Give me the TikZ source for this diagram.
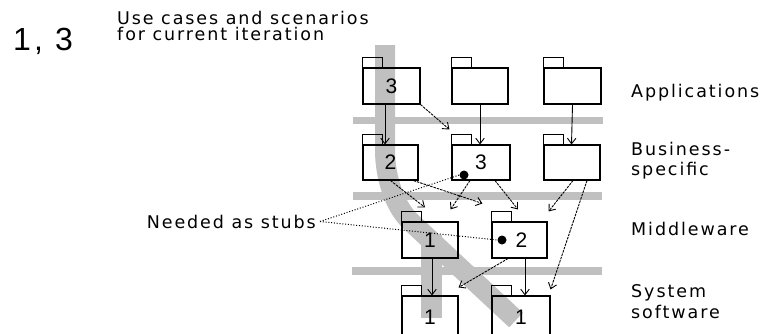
\documentclass[tikz,border=0pt]{standalone}
\usepackage{fontspec}
\setmainfont{Liberation Sans}
\newfontfamily\lblfont[LetterSpace=11]{DejaVu Sans}
\newfontfamily\bigfont[LetterSpace=10]{Liberation Sans}
\usetikzlibrary{arrows.meta}
\definecolor{bandgray}{RGB}{192,192,192}
\begin{document}
\begin{tikzpicture}[x=1pt,y=-1pt,
  lbl/.style={anchor=base west, inner sep=0pt, align=left},
  lblf/.style={font=\lblfont\fontsize{17.5}{#1}\selectfont},
  fold/.style={draw, line width=1.1pt, inner sep=0pt, font=\fontsize{21}{21}\selectfont},
  tabbox/.style={draw, line width=1.1pt},
  dep/.style={-{Straight Barb[length=5.5pt,width=8.5pt]}, line width=0.9pt},
  depd/.style={dep, dash pattern=on 2.5pt off 1pt},
  stub/.style={line width=1pt, dash pattern=on 1pt off 1.8pt},
  mark dot/.style={circle, fill=black, inner sep=0pt, minimum size=9pt}
]
\clip (0,0) rectangle (760,333);
\fill[white] (0,0) rectangle (760,333);
% gray bands
\fill[bandgray] (353,117) rectangle (603,124);
\fill[bandgray] (353,192) rectangle (602,200);
\fill[bandgray] (352,267) rectangle (602,275);
\draw[bandgray, line width=20pt] (385,45) -- (385,150) .. controls (385,180) and (396,208) .. (411,222) -- (516,320);
\draw[bandgray, line width=21pt] (431,235) -- (431,318);
% folders
\node[fold, minimum width=57pt, minimum height=36pt] (f11) at (391.5,86) {3};
\node[fold, minimum width=56pt, minimum height=36pt] (f12) at (480,86) {};
\node[fold, minimum width=57pt, minimum height=36pt] (f13) at (572.5,86) {};
\node[fold, minimum width=55pt, minimum height=35pt] (f21) at (390.5,162.5) {2};
\node[fold, minimum width=58pt, minimum height=35pt] (f22) at (481,162.5) {3};
\node[fold, minimum width=56pt, minimum height=35pt] (f23) at (572,162.5) {};
\node[fold, minimum width=56pt, minimum height=36pt] (f31) at (430,240) {1};
\node[fold, minimum width=55pt, minimum height=36pt] (f32) at (519.5,240) {\hspace*{4pt}2};
\node[fold, minimum width=56pt, minimum height=42pt] (f41) at (430,317) {1};
\node[fold, minimum width=58pt, minimum height=42pt] (f42) at (521,317) {1};
\foreach \f in {f11,f12,f13,f21,f22,f23,f31,f32,f41,f42}
  \draw[tabbox] (\f.north west) rectangle ([xshift=20pt,yshift=10pt]\f.north west);
% stub marks
\node[mark dot] (b22) at (464,175) {};
\node[mark dot] (d32) at (502,240) {};
% dependencies
\draw[dep] ([xshift=-6.5pt]f11.south) -- ([xshift=-5.5pt]f21.north);
\draw[depd] (f11.south east) -- ([xshift=-2pt,yshift=15pt]f22.north west);
\draw[dep] (f12.south) -- ([xshift=-1pt]f22.north);
\draw[dep] (f13.south) -- ([xshift=-0.5pt]f23.north);
\draw[depd] (f21.south) -- ([xshift=-5pt,yshift=14pt]f31.north);
\draw[depd] ([xshift=-5pt]f21.south east) -- ([xshift=-9pt,yshift=18pt]f32.north west);
\draw[depd] ([xshift=-11pt]f22.south) -- ([xshift=-8pt,yshift=12pt]f31.north east);
\draw[depd] ([xshift=14pt]f22.south) -- ([xshift=-1.5pt,yshift=12pt]f32.north);
\draw[depd] ([xshift=1pt]f23.south) -- ([xshift=1pt,yshift=10pt]f32.north east);
\draw[depd] ([xshift=15pt]f23.south) -- ([yshift=6pt]f42.north east);
\draw[dep] ([xshift=2pt]f31.south) -- ([xshift=2pt]f41.north);
\draw[depd] ([xshift=-11.5pt]f32.south) -- ([yshift=8pt]f41.north east);
\draw[dep] ([xshift=5.5pt]f32.south) -- ([xshift=4pt]f42.north);
% texts
\node[lbl, font=\bigfont\fontsize{32}{32}\selectfont] (iter) at (13,50) {1, 3};
\node[lbl, lblf=16] (uc) at (117,40) {Use cases and scenarios\\for current iteration};
\node[lbl, lblf=20] (app) at (631,97) {Applications};
\node[lbl, lblf=20] (bus) at (631,175) {Business-\\specific};
\node[lbl, lblf=20] (mid) at (631,235) {Middleware};
\node[lbl, lblf=21] (sys) at (631,318) {System\\software};
\node[anchor=base east, inner ysep=0pt, inner xsep=4pt, lblf=20] (stubs) at (320,228) {Needed as stubs};
\draw[stub] (stubs.east) -- (b22.west);
\draw[stub] (stubs.east) -- (d32.west);
\end{tikzpicture}
\end{document}
